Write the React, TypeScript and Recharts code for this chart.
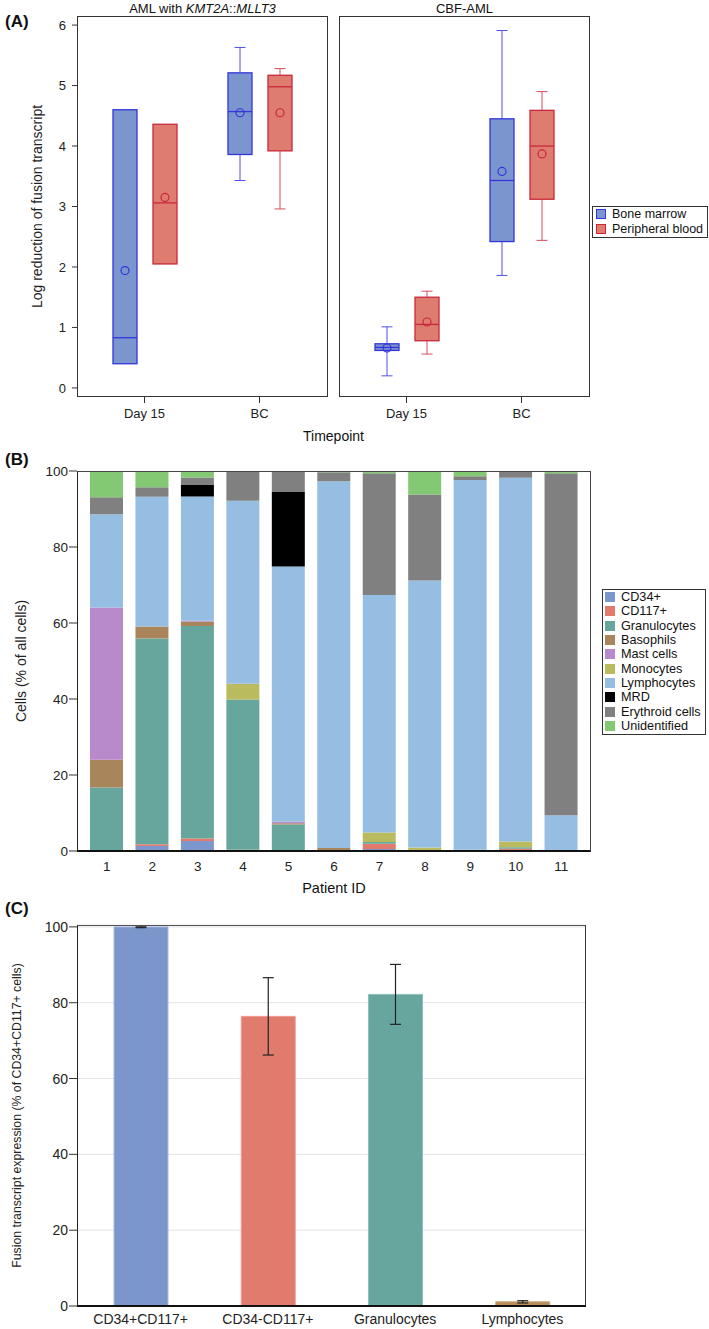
import {
  ComposedChart,
  BarChart,
  Bar,
  XAxis,
  YAxis,
  Legend,
  CartesianGrid,
  ErrorBar,
  Cell,
} from 'recharts'

const FONT = '"Liberation Sans", Arial, Helvetica, sans-serif'

// (A) log reduction, per timepoint: [min, q1, median, q3, max, mean]
const timepoints = ['Day 15', 'BC']
const kmtBoneMarrow = [
  [0.4, 0.4, 0.83, 4.6, 4.6, 1.94],
  [3.43, 3.86, 4.57, 5.21, 5.63, 4.55],
]
const kmtBlood = [
  [2.05, 2.05, 3.06, 4.36, 4.36, 3.15],
  [2.96, 3.92, 4.98, 5.17, 5.28, 4.55],
]
const cbfBoneMarrow = [
  [0.2, 0.62, 0.67, 0.73, 1.01, 0.66],
  [1.86, 2.42, 3.43, 4.45, 5.91, 3.58],
]
const cbfBlood = [
  [0.56, 0.78, 1.05, 1.5, 1.6, 1.09],
  [2.44, 3.12, 4.0, 4.59, 4.9, 3.87],
]
const logTicks = [0, 1, 2, 3, 4, 5, 6]

// (B) cell composition per patient (% of all cells)
const patients = ['1', '2', '3', '4', '5', '6', '7', '8', '9', '10', '11']
const cd34 = [0, 1.3, 2.6, 0, 0, 0, 0.5, 0, 0, 0, 0]
const cd117 = [0, 0.5, 0.7, 0.3, 0, 0, 1.4, 0, 0, 0.6, 0]
const granulocytes = [16.7, 54.1, 55.9, 39.6, 7.0, 0, 0.5, 0, 0.3, 0.4, 0]
const basophils = [7.3, 3.2, 1.1, 0, 0.3, 0.8, 0, 0, 0, 0, 0]
const mastCells = [40.1, 0, 0.3, 0, 0.4, 0, 0, 0, 0, 0, 0]
const monocytes = [0, 0, 0, 4.1, 0, 0, 2.5, 0.9, 0, 1.5, 0]
const lymphocytes = [24.5, 34.1, 32.7, 48.2, 67.2, 96.5, 62.5, 70.3, 97.3, 95.7, 9.4]
const mrd = [0, 0, 3.0, 0, 19.6, 0, 0, 0, 0, 0, 0]
const erythroid = [4.5, 2.5, 2.0, 7.6, 5.5, 2.4, 32.0, 22.6, 1.0, 1.8, 90.0]
const unidentified = [6.9, 4.3, 1.7, 0.2, 0, 0.3, 0.6, 6.2, 1.4, 0, 0.6]
const percentTicks = [0, 20, 40, 60, 80, 100]

// (C) fusion transcript expression per fraction
const fractions = ['CD34+CD117+', 'CD34-CD117+', 'Granulocytes', 'Lymphocytes']
const fusionExpression = [100, 76.4, 82.2, 1.1]
const fusionError = [0.2, 10.2, 7.9, 0.3]

const cellSeries = [
  { name: 'CD34+', values: cd34, color: '#7b97cd' },
  { name: 'CD117+', values: cd117, color: '#e27b6e' },
  { name: 'Granulocytes', values: granulocytes, color: '#66a69d' },
  { name: 'Basophils', values: basophils, color: '#a8855a' },
  { name: 'Mast cells', values: mastCells, color: '#b88acb' },
  { name: 'Monocytes', values: monocytes, color: '#babb5e' },
  { name: 'Lymphocytes', values: lymphocytes, color: '#96bde2' },
  { name: 'MRD', values: mrd, color: '#000000' },
  { name: 'Erythroid cells', values: erythroid, color: '#808080' },
  { name: 'Unidentified', values: unidentified, color: '#83c873' },
]
const fractionColors = ['#7b96cb', '#e07b6d', '#66a69e', '#b78d5b']
const fractionStrokes = ['#a6b9e4', '#ef9d92', '#8cc0b8', '#c9a173']

const BM = { name: 'Bone marrow', fill: '#7b96cf', stroke: '#3535d9', whisker: '#5151ea' }
const PB = { name: 'Peripheral blood', fill: '#df7c70', stroke: '#c8283a', whisker: '#d84c5c' }

function BoxWhisker(props: any) {
  const { x, y, width, height, fill, stroke, whisker, stat } = props
  const [min, q1, med, q3, max, mean] = stat as number[]
  const top = Math.min(y, y + height)
  const h = Math.abs(height)
  const ppu = h / (max - min)
  const py = (v: number) => top + (max - v) * ppu
  const cx = x + width / 2
  const cap = 5.5
  return (
    <g>
      {max > q3 && (
        <g stroke={whisker} strokeWidth={1}>
          <line x1={cx} x2={cx} y1={py(max)} y2={py(q3)} />
          <line x1={cx - cap} x2={cx + cap} y1={py(max)} y2={py(max)} />
        </g>
      )}
      {min < q1 && (
        <g stroke={whisker} strokeWidth={1}>
          <line x1={cx} x2={cx} y1={py(q1)} y2={py(min)} />
          <line x1={cx - cap} x2={cx + cap} y1={py(min)} y2={py(min)} />
        </g>
      )}
      <rect x={x} y={py(q3)} width={width} height={py(q1) - py(q3)} fill={fill} stroke={stroke} strokeWidth={1.3} />
      <line x1={x} x2={x + width} y1={py(med)} y2={py(med)} stroke={stroke} strokeWidth={1.3} />
      <circle cx={cx} cy={py(mean)} r={4} fill="none" stroke={stroke} strokeWidth={1.2} />
    </g>
  )
}

function BoxLegend() {
  return (
    <div style={{ border: '1px solid #333', background: '#fff', padding: '0 4px 1px 3px', fontSize: 12.5, fontFamily: FONT, color: '#111' }}>
      {[BM, PB].map(s => (
        <div key={s.name} style={{ display: 'flex', alignItems: 'center', height: 14.5, whiteSpace: 'nowrap' }}>
          <span style={{ width: 8, height: 8, background: s.fill, border: `1px solid ${s.stroke}`, marginRight: 6, flex: 'none' }} />
          {s.name}
        </div>
      ))}
    </div>
  )
}

function CellLegend({ payload }: any) {
  return (
    <div style={{ border: '1px solid #333', background: '#fff', padding: '0 4px 1px 2px', fontSize: 12.7, fontFamily: FONT, color: '#111' }}>
      {(payload ?? []).map((e: any) => (
        <div key={e.value} style={{ display: 'flex', alignItems: 'center', height: 14.3, whiteSpace: 'nowrap' }}>
          <span style={{ width: 10, height: 10, background: e.color, marginRight: 6, flex: 'none' }} />
          {e.value}
        </div>
      ))}
    </div>
  )
}

function BoxPanel({ bm, pb, withAxis }: { bm: number[][]; pb: number[][]; withAxis: boolean }) {
  const data = timepoints.map((tp, i) => ({ tp, bm: bm[i], pb: pb[i] }))
  return (
    <ComposedChart
      width={withAxis ? 330 : 379}
      height={450}
      data={data}
      barGap={16}
      margin={withAxis ? { top: 16, right: 2, bottom: 23, left: 0 } : { top: 16, right: 119, bottom: 23, left: 9 }}
    >
      <XAxis
        dataKey="tp"
        padding={{ left: 10, right: 11 }}
        axisLine={false}
        tickLine={{ stroke: '#333' }}
        tickSize={6}
        tickMargin={6}
        height={30}
        tick={{ fontSize: 13, fill: '#222' }}
      />
      <YAxis
        type="number"
        domain={[-0.15, 6.15]}
        ticks={logTicks}
        allowDataOverflow
        hide={!withAxis}
        width={77}
        axisLine={false}
        tickLine={{ stroke: '#333' }}
        tickSize={5}
        tickMargin={6}
        tick={{ fontSize: 13, fill: '#222' }}
        label={{
          value: 'Log reduction of fusion transcript',
          angle: -90,
          position: 'insideLeft',
          offset: 37,
          style: { textAnchor: 'middle', fontSize: 14, fill: '#222' },
        }}
      />
      <Bar
        name={BM.name}
        dataKey={(d: any) => [d.bm[0], d.bm[4]]}
        fill={BM.fill}
        barSize={24}
        isAnimationActive={false}
        shape={(p: any) => <BoxWhisker {...p} fill={BM.fill} stroke={BM.stroke} whisker={BM.whisker} stat={p.payload.bm} />}
      />
      <Bar
        name={PB.name}
        dataKey={(d: any) => [d.pb[0], d.pb[4]]}
        fill={PB.fill}
        barSize={24}
        isAnimationActive={false}
        shape={(p: any) => <BoxWhisker {...p} fill={PB.fill} stroke={PB.stroke} whisker={PB.whisker} stat={p.payload.pb} />}
      />
      {!withAxis && (
        <Legend
          layout="vertical"
          align="center"
          verticalAlign="middle"
          content={<BoxLegend />}
          wrapperStyle={{ left: 262, top: 206, width: 'auto' }}
        />
      )}
    </ComposedChart>
  )
}

function CompositionChart() {
  const data = patients.map((patient, i) => {
    const row: Record<string, string | number> = { patient }
    cellSeries.forEach(s => (row[s.name] = s.values[i]))
    return row
  })
  const order = cellSeries.map(s => s.name)
  return (
    <BarChart width={709} height={420} data={data} margin={{ top: 11, right: 118, bottom: 4, left: 0 }}>
      <XAxis
        dataKey="patient"
        padding={{ left: 7, right: 7 }}
        axisLine={false}
        tickLine={false}
        tickSize={6}
        tickMargin={4}
        height={25}
        interval={0}
        tick={{ fontSize: 13.5, fill: '#222' }}
      />
      <YAxis
        type="number"
        domain={[0, 100]}
        ticks={percentTicks}
        width={77}
        axisLine={false}
        tickLine={{ stroke: '#333' }}
        tickSize={8}
        tickMargin={1}
        tick={{ fontSize: 13.5, fill: '#222' }}
        label={{
          value: 'Cells (% of all cells)',
          angle: -90,
          position: 'insideLeft',
          offset: 21,
          style: { textAnchor: 'middle', fontSize: 14, fill: '#222' },
        }}
      />
      {cellSeries.map(s => (
        <Bar key={s.name} dataKey={s.name} stackId="cells" fill={s.color} barSize={33} isAnimationActive={false} />
      ))}
      <Legend
        layout="vertical"
        align="center"
        verticalAlign="middle"
        itemSorter={(item: any) => order.indexOf(item.value)}
        content={<CellLegend />}
        wrapperStyle={{ left: 602, top: 129, width: 'auto' }}
      />
    </BarChart>
  )
}

function FusionChart() {
  const data = fractions.map((fraction, i) => ({
    fraction,
    value: fusionExpression[i],
    err: fusionError[i],
  }))
  return (
    <BarChart width={709} height={419} data={data} margin={{ top: 15, right: 123, bottom: 0, left: 0 }}>
      <CartesianGrid vertical={false} stroke="#e4e4e4" />
      <XAxis
        dataKey="fraction"
        axisLine={false}
        tickLine={false}
        tickSize={6}
        tickMargin={2}
        height={23}
        interval={0}
        tick={{ fontSize: 14, fill: '#222' }}
      />
      <YAxis
        type="number"
        domain={[0, 100.5]}
        ticks={percentTicks}
        width={77}
        axisLine={false}
        tickLine={{ stroke: '#333' }}
        tickSize={8}
        tickMargin={1}
        tick={{ fontSize: 14, fill: '#222' }}
        label={{
          value: 'Fusion transcript expression (% of CD34+CD117+ cells)',
          angle: -90,
          position: 'insideLeft',
          offset: 16.5,
          style: { textAnchor: 'middle', fontSize: 12.3, fill: '#222' },
        }}
      />
      <Bar dataKey="value" barSize={54} isAnimationActive={false}>
        {data.map((d, i) => (
          <Cell key={d.fraction} fill={fractionColors[i]} stroke={fractionStrokes[i]} strokeWidth={1} />
        ))}
        <ErrorBar dataKey="err" width={5.5} stroke="#222" strokeWidth={1.2} />
      </Bar>
    </BarChart>
  )
}

const abs = (left: number, top: number): React.CSSProperties => ({ position: 'absolute', left, top })

export default function App() {
  const text: React.CSSProperties = { position: 'absolute', color: '#111', whiteSpace: 'nowrap' }
  const letter: React.CSSProperties = { ...text, left: 5, fontSize: 17, fontWeight: 'bold', lineHeight: '18px' }
  return (
    <div style={{ position: 'absolute', left: 0, top: 0, width: 709, height: 1329, background: '#fff', fontFamily: FONT, overflow: 'hidden' }}>
      <div style={abs(0, 0)}>
        <BoxPanel bm={kmtBoneMarrow} pb={kmtBlood} withAxis />
      </div>
      <div style={abs(330, 0)}>
        <BoxPanel bm={cbfBoneMarrow} pb={cbfBlood} withAxis={false} />
      </div>
      <div style={{ ...abs(77, 16), width: 251, height: 381, border: '1.3px solid #333', boxSizing: 'border-box' }} />
      <div style={{ ...abs(339, 16), width: 251, height: 381, border: '1.3px solid #333', boxSizing: 'border-box' }} />
      <div style={{ ...text, left: 77, width: 251, top: 0, textAlign: 'center', fontSize: 13, lineHeight: '17px' }}>
        AML with <i>KMT2A</i>::<i>MLLT3</i>
      </div>
      <div style={{ ...text, left: 339, width: 251, top: 0, textAlign: 'center', fontSize: 13, lineHeight: '17px' }}>CBF-AML</div>
      <div style={{ ...text, left: 77, width: 513, top: 427, textAlign: 'center', fontSize: 14, lineHeight: '18px' }}>Timepoint</div>
      <div style={{ ...letter, top: 13 }}>(A)</div>

      <div style={abs(0, 460)}>
        <CompositionChart />
      </div>
      <div
        style={{
          ...abs(77, 471),
          width: 514,
          height: 381,
          boxSizing: 'border-box',
          borderTop: '1px solid #444',
          borderRight: '1px solid #444',
          borderLeft: '1.5px solid #222',
          borderBottom: '2px solid #111',
        }}
      />
      <div style={{ ...text, left: 77, width: 514, top: 879, textAlign: 'center', fontSize: 14.5, lineHeight: '18px' }}>Patient ID</div>
      <div style={{ ...letter, top: 451 }}>(B)</div>

      <div style={abs(0, 910)}>
        <FusionChart />
      </div>
      <div
        style={{
          ...abs(77, 925),
          width: 509,
          height: 382,
          boxSizing: 'border-box',
          borderTop: '1px solid #555',
          borderRight: '1.5px solid #333',
          borderLeft: '1.5px solid #222',
          borderBottom: '2px solid #111',
        }}
      />
      <div style={{ ...letter, top: 900 }}>(C)</div>
    </div>
  )
}
